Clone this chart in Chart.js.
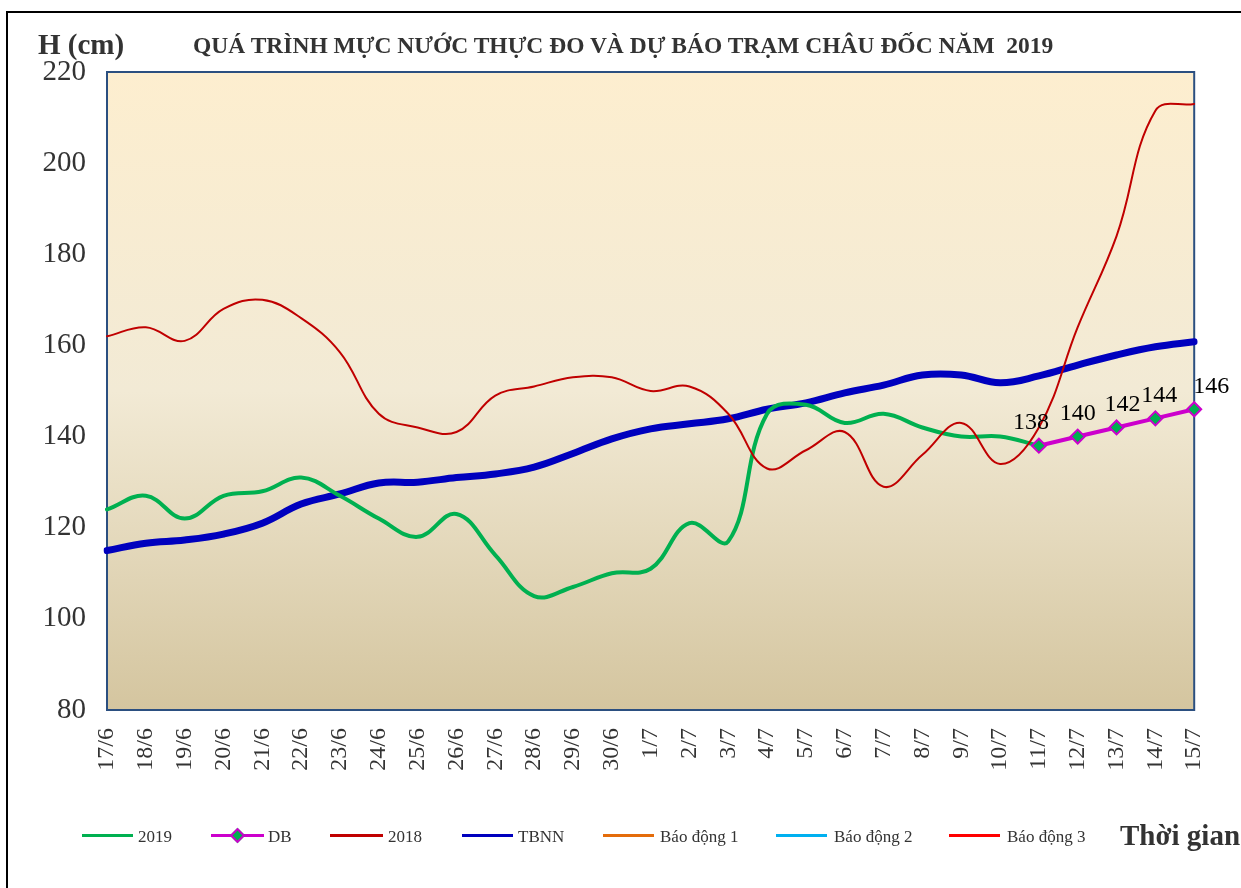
<!DOCTYPE html>
<html>
<head>
<meta charset="utf-8">
<script src="https://cdn.jsdelivr.net/npm/chart.js@4.4.1/dist/chart.umd.min.js"></script>
<style>
html,body{margin:0;padding:0;background:#fff;}
#wrap{position:relative;width:1241px;height:888px;overflow:hidden;font-family:"Liberation Serif","Times New Roman",serif;}
#frame{position:absolute;left:6px;top:11px;width:1400px;height:1000px;border-left:2px solid #000;border-top:2px solid #000;box-sizing:border-box;}
canvas{position:absolute;left:0;top:0;}
.t{position:absolute;white-space:nowrap;color:#333;line-height:1;}
.lg-line{position:absolute;height:3px;}
.lg-text{position:absolute;white-space:nowrap;color:#333;font-size:17px;line-height:1;}
.diamond{position:absolute;width:7px;height:7px;background:#00B050;border:2px solid #CC00CC;transform:rotate(45deg);}
</style>
</head>
<body>
<div id="wrap">
  <div id="frame"></div>
  <canvas id="c" width="1241" height="888"></canvas>
  <div class="t" style="left:38px;top:30px;font-size:29px;font-weight:bold;">H (cm)</div>
  <div class="t" id="title" style="left:193px;top:34px;font-size:23.5px;font-weight:bold;">QUÁ TRÌNH MỰC NƯỚC THỰC ĐO VÀ DỰ BÁO TRẠM CHÂU ĐỐC NĂM&nbsp; 2019</div>
  <div class="t" style="left:1120px;top:821px;font-size:29px;font-weight:bold;">Thời gian</div>
  <div id="legend"></div>
</div>
<script>
// ---- data ----
const labels = ['17/6','18/6','19/6','20/6','21/6','22/6','23/6','24/6','25/6','26/6','27/6','28/6','29/6','30/6',
  '1/7','2/7','3/7','4/7','5/7','6/7','7/7','8/7','9/7','10/7','11/7','12/7','13/7','14/7','15/7'];
const h2019 = [124,127,122,127,128,131,127,122,118,123,114,105,107,110,111,121,117,145,147,143,145,142,140,140,138,null,null,null,null];
const hDB = [null,null,null,null,null,null,null,null,null,null,null,null,null,null,null,null,null,null,null,null,null,null,null,null,138,140,142,144,146];
const h2018 = [162,164,161,168,170,166,158.5,145,142,141,149,151,153,153,150,151,145,133,137,141,129,136,143,134,142,164,184,211.5,213];
const hTBNN = [115,116.6,117.3,118.6,121,125.2,127.4,129.8,130,131,131.8,133.3,136.3,139.5,141.7,142.8,143.9,146,147.4,149.6,151.3,153.5,153.5,151.8,153.3,155.7,157.9,159.7,160.8];
const hBD1 = [];
const hBD2 = [];
const hBD3 = [];
const yTicks = [80,100,120,140,160,180,200,220];

// ---- legend (HTML) ----
const legendItems = [
  {name:'2019', color:'#00B050', x1:82, x2:133, tx:138},
  {name:'DB', color:'#CC00CC', x1:211, x2:264, tx:268, marker:true},
  {name:'2018', color:'#C00000', x1:330, x2:383, tx:388},
  {name:'TBNN', color:'#0000BE', x1:462, x2:513, tx:518},
  {name:'Báo động 1', color:'#E46C0A', x1:603, x2:654, tx:660},
  {name:'Báo động 2', color:'#00B0F0', x1:776, x2:827, tx:834},
  {name:'Báo động 3', color:'#FF0000', x1:949, x2:1000, tx:1007}
];
const lg = document.getElementById('legend');
legendItems.forEach(it=>{
  const l = document.createElement('div');
  l.className='lg-line'; l.style.left=it.x1+'px'; l.style.width=(it.x2-it.x1)+'px'; l.style.top='834px'; l.style.background=it.color;
  lg.appendChild(l);
  if(it.marker){
    const d=document.createElement('div'); d.className='diamond';
    d.style.left=((it.x1+it.x2)/2-5.5)+'px'; d.style.top='830px'; lg.appendChild(d);
  }
  const t=document.createElement('div'); t.className='lg-text'; t.textContent=it.name;
  t.style.left=it.tx+'px'; t.style.top='828px'; lg.appendChild(t);
});

// ---- plugins ----
const bgPlugin = {
  id:'plotBg',
  beforeDatasetsDraw(chart){
    const {ctx, chartArea:a} = chart;
    ctx.save();
    const g = ctx.createLinearGradient(0,a.top,0,a.bottom);
    g.addColorStop(0,'#FDEECF');
    g.addColorStop(0.5,'#F2EAD5');
    g.addColorStop(1,'#D4C59F');
    ctx.fillStyle=g;
    ctx.fillRect(a.left,a.top,a.right-a.left,a.bottom-a.top);
    ctx.strokeStyle='#2B4F80';
    ctx.lineWidth=2;
    ctx.strokeRect(a.left,a.top,a.right-a.left,a.bottom-a.top);
    ctx.restore();
  }
};
const labelPlugin = {
  id:'dbLabels',
  afterDatasetsDraw(chart, args, opts){
    const idx = chart.data.datasets.findIndex(d=>d.label==='DB');
    const meta = chart.getDatasetMeta(idx);
    const ctx = chart.ctx;
    ctx.save();
    ctx.font = '24px "Liberation Serif", serif';
    ctx.fillStyle = '#000';
    ctx.textAlign = 'center';
    ctx.textBaseline = 'middle';
    let k = 0;
    meta.data.forEach((pt,i)=>{
      const v = hDB[i];
      if(v==null) return;
      const dx = opts.dx[k] || 0;
      ctx.fillText(String(v), pt.x + dx, pt.y + opts.dy);
      k++;
    });
    ctx.restore();
  }
};

new Chart(document.getElementById('c'), {
  type:'line',
  data:{
    labels: labels,
    datasets:[
      {label:'2019', data:h2019, borderColor:'#00B050', borderWidth:4, pointRadius:0, tension:0.4, order:2, fill:false},
      {label:'DB', data:hDB, borderColor:'#CC00CC', borderWidth:4, pointStyle:'rectRot', pointRadius:7, pointBackgroundColor:'#00B050', pointBorderColor:'#CC00CC', pointBorderWidth:2, tension:0, order:0, clip:false},
      {label:'2018', data:h2018, borderColor:'#C00000', borderWidth:2, pointRadius:0, tension:0.4, order:1},
      {label:'TBNN', data:hTBNN, borderColor:'#0000BE', borderWidth:7, pointRadius:0, tension:0.4, order:3},
      {label:'Báo động 1', data:hBD1, borderColor:'#E46C0A', borderWidth:3, pointRadius:0, order:4},
      {label:'Báo động 2', data:hBD2, borderColor:'#00B0F0', borderWidth:3, pointRadius:0, order:5},
      {label:'Báo động 3', data:hBD3, borderColor:'#FF0000', borderWidth:3, pointRadius:0, order:6}
    ]
  },
  options:{
    responsive:false,
    animation:false,
    devicePixelRatio:1,
    layout:{padding:{left:0,top:72,right:45,bottom:118}},
    plugins:{
      legend:{display:false},
      title:{display:false},
      tooltip:{enabled:false},
      dbLabels:{dx:[-8,0,6,4,17], dy:-23}
    },
    elements:{line:{borderJoinStyle:'round', borderCapStyle:'round'}},
    scales:{
      x:{
        type:'category',
        offset:false,
        grid:{display:false, drawTicks:false},
        border:{display:false},
        ticks:{autoSkip:false, minRotation:90, maxRotation:90, padding:18, color:'#333',
          font:{family:'"Liberation Serif", serif', size:24}},
        afterFit(s){ s.height = 60; }
      },
      y:{
        min:80, max:220,
        afterBuildTicks(s){ s.ticks = yTicks.map(v=>({value:v})); },
        grid:{display:false, drawTicks:false},
        border:{display:false},
        ticks:{padding:21, color:'#333', font:{family:'"Liberation Serif", serif', size:29}},
        afterFit(s){ s.width = 107; }
      }
    }
  },
  plugins:[bgPlugin, labelPlugin]
});
</script>
</body>
</html>
